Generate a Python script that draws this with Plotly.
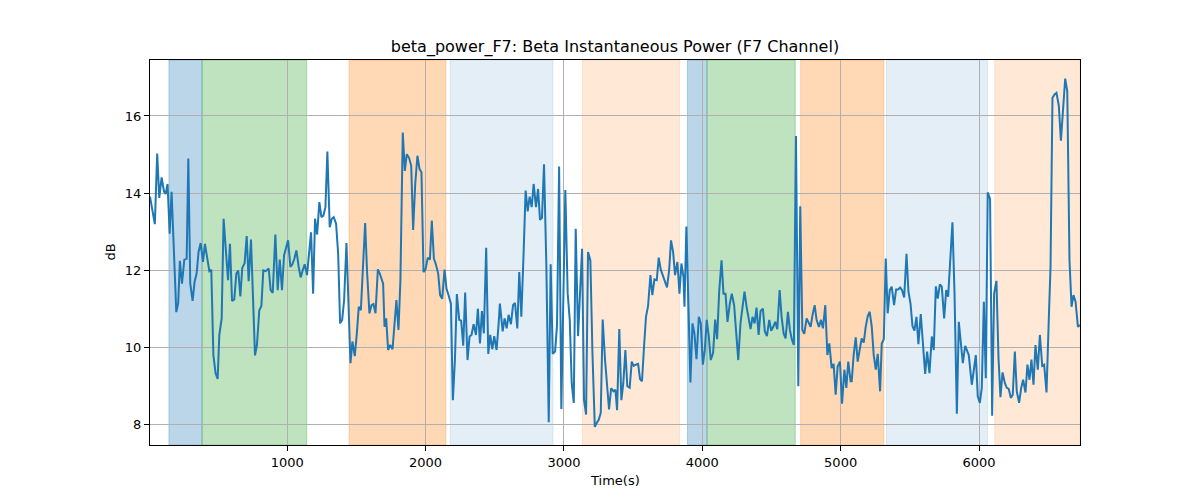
import plotly.graph_objects as go

# ---- data ----
time_s = [
    8, 43, 60, 75, 92, 109, 121, 135, 150, 164, 198, 212, 224, 239, 256, 273, 285, 299, 316, 330,
    345, 359, 374, 391, 405, 422, 437, 451, 466, 482, 497, 509, 526, 540, 557, 572, 586, 601, 617, 632,
    646, 661, 675, 692, 707, 721, 738, 753, 767, 781, 798, 813, 827, 844,
    866, 880, 895, 914, 931, 946, 962, 977, 991, 1006, 1023, 1037, 1052, 1066, 1083, 1097, 1112, 1126,
    1143, 1158, 1172, 1187, 1201, 1216, 1232, 1247, 1261, 1276, 1290, 1307, 1322, 1336, 1353, 1368,
    1382, 1397, 1411, 1428, 1442, 1457, 1471, 1488, 1503, 1517, 1532, 1546, 1563, 1577, 1594, 1609,
    1623, 1638, 1655, 1669, 1686,
    1693, 1703, 1715, 1729, 1744, 1761, 1775, 1789, 1804, 1818, 1835, 1850, 1864, 1881, 1896, 1910,
    1925, 1941, 1956, 1970, 1985, 1999, 2016, 2031, 2045, 2060, 2074, 2091, 2105, 2120, 2137, 2151,
    2166, 2183, 2197, 2212, 2226, 2243, 2257, 2272, 2286, 2303, 2318, 2332, 2347, 2364, 2378, 2393,
    2407, 2421, 2438, 2453, 2467, 2482, 2496, 2513, 2528, 2537,
    2557, 2571, 2586, 2600, 2617, 2632, 2646, 2663, 2677, 2692, 2709, 2723, 2738, 2752, 2767, 2781,
    2798, 2813, 2827, 2841, 2856, 2873, 2890, 2904, 2919, 2936, 2950, 2965, 2981, 2996, 3010, 3027,
    3042, 3056, 3071, 3085, 3102, 3116, 3131, 3145, 3160, 3174, 3191, 3206, 3223, 3237, 3252, 3266,
    3280, 3297, 3312, 3326, 3341, 3358, 3372, 3384,
    3400, 3415, 3429, 3444, 3458, 3475, 3490, 3504, 3519, 3536, 3550, 3564, 3579, 3593, 3608, 3625,
    3639, 3654, 3671, 3685, 3700, 3716, 3731, 3745, 3760, 3774, 3789, 3803, 3820, 3835, 3849, 3864,
    3871, 3885, 3900, 3914, 3929, 3943, 3958, 3975, 3989, 4004, 4018, 4032, 4047, 4061, 4078, 4093,
    4107, 4122, 4139, 4153, 4168, 4182, 4199, 4213, 4230,
    4245, 4260, 4276, 4291, 4305, 4320, 4334, 4349, 4363, 4378, 4392, 4407, 4421, 4438, 4452, 4467,
    4484, 4498, 4513, 4527, 4542, 4559, 4573, 4588, 4602, 4619, 4633, 4648, 4662, 4677, 4694, 4708,
    4723, 4737, 4754, 4768, 4783, 4797, 4812, 4826, 4843, 4858, 4872, 4889, 4904, 4918, 4935, 4949,
    4964, 4978, 4995, 5010, 5027, 5041, 5055, 5072,
    5080, 5094, 5109, 5123, 5138, 5152, 5167, 5181, 5196, 5210, 5225, 5239, 5254, 5268, 5285, 5297,
    5312, 5326, 5340, 5355, 5369, 5386, 5401, 5415, 5430, 5444, 5459, 5476, 5490, 5505, 5519, 5533,
    5548, 5562, 5579, 5594, 5611, 5625, 5642, 5659, 5673, 5688, 5702, 5717, 5731, 5748, 5763, 5777,
    5792, 5808, 5823, 5840, 5854, 5869, 5883, 5900, 5915,
    5926, 5948, 5962, 5977, 5991, 6006, 6020, 6035, 6049, 6063, 6080, 6095, 6109, 6126, 6141, 6155,
    6170, 6187, 6201, 6215, 6230, 6244, 6259, 6273, 6290, 6305, 6319, 6336, 6350, 6365, 6379, 6394,
    6408, 6425, 6440, 6457, 6471, 6488, 6505, 6517, 6531, 6546, 6560, 6577, 6592, 6609, 6623, 6638,
    6654, 6669, 6683, 6698, 6715, 6730,
]

power_db = [
    13.91, 13.20, 15.03, 13.88, 14.41, 14.05, 13.98, 14.24, 12.95, 14.04, 10.92, 11.16, 12.25, 11.66, 12.28, 12.30, 14.90, 11.66, 11.21, 11.70,
    11.92, 12.48, 12.71, 12.22, 12.69, 12.31, 11.98, 12.02, 9.81, 9.34, 9.19, 10.33, 10.76, 13.34, 12.35, 11.75, 12.69, 11.21, 11.25, 11.92,
    12.00, 11.33, 12.07, 12.19, 12.89, 11.72, 12.80, 11.40, 9.80, 10.07, 10.97, 11.08, 12.00, 11.98,
    12.05, 11.49, 11.42, 12.93, 11.49, 12.28, 11.49, 12.39, 12.56, 12.78, 12.09, 12.16, 12.31, 12.52, 12.09, 11.82, 12.01, 12.16,
    11.88, 12.52, 12.99, 11.40, 13.34, 12.93, 13.77, 13.38, 13.42, 13.64, 15.08, 13.12, 13.34, 13.38, 13.21, 12.43,
    10.63, 10.72, 11.23, 12.71, 11.40, 9.60, 10.16, 9.78, 10.37, 11.06, 10.97, 11.92, 13.23, 11.96, 10.89, 11.10,
    11.13, 10.89, 12.03, 11.92, 11.75,
    11.66, 10.54, 10.76, 9.94, 10.07, 9.96, 10.63, 11.23, 10.46, 11.75, 15.57, 14.58, 15.01, 14.91, 14.71, 13.05,
    14.24, 14.97, 14.63, 14.54, 11.96, 12.02, 12.33, 12.28, 13.29, 12.31, 12.16, 11.92, 11.36, 11.27, 12.02, 11.53,
    11.36, 11.14, 8.64, 9.68, 11.39, 10.72, 10.70, 10.05, 11.43, 9.68, 10.29, 10.33, 10.61, 10.33, 11.01, 10.11,
    10.95, 10.37, 12.59, 9.84, 10.33, 9.96, 10.30, 9.94, 10.63, 11.14,
    10.42, 10.76, 10.50, 10.85, 10.61, 11.10, 11.16, 10.50, 11.96, 10.80, 12.52, 14.07, 13.53, 13.91, 13.64, 14.24,
    13.64, 14.11, 13.31, 13.36, 14.75, 12.09, 8.07, 12.16, 9.84, 9.90, 10.59, 14.69, 8.41, 11.92, 14.08, 11.40,
    10.72, 9.08, 8.57, 13.08, 10.30, 11.40, 12.56, 8.65, 8.27, 12.48, 12.26, 9.86, 7.95, 8.05, 8.14, 8.31,
    10.73, 9.68, 9.00, 8.40, 8.95, 8.87, 8.91, 8.38,
    10.48, 8.64, 9.08, 9.94, 9.00, 8.96, 9.64, 9.53, 9.56, 9.58, 9.19, 9.13, 10.03, 10.80, 11.08, 11.88,
    11.36, 11.77, 11.75, 12.33, 12.02, 11.85, 11.70, 11.56, 12.00, 12.78, 12.48, 11.88, 12.22, 11.40, 12.18, 11.83,
    11.06, 13.14, 11.06, 9.10, 10.63, 10.37, 9.70, 10.80, 10.63, 9.56, 9.94, 10.72, 10.29, 9.68, 9.86, 10.73,
    10.22, 11.45, 12.26, 11.40, 11.40, 10.67, 11.14, 11.40, 11.10,
    10.46, 9.68, 10.63, 11.10, 11.45, 11.06, 10.80, 10.48, 10.80, 10.63, 11.04, 10.33, 10.95, 11.01, 10.42, 10.30,
    10.72, 10.44, 10.54, 10.67, 10.48, 11.49, 10.80, 10.37, 10.24, 10.93, 10.46, 10.20, 10.07, 15.48, 9.00, 13.66,
    10.46, 10.36, 10.76, 10.63, 10.54, 10.85, 11.10, 10.72, 10.54, 10.72, 10.50, 11.10, 9.81, 10.11, 9.47, 9.58,
    8.78, 9.51, 9.64, 8.55, 9.43, 8.96, 9.64, 9.13,
    9.13, 9.81, 10.27, 9.64, 9.93, 10.24, 10.13, 10.54, 10.82, 10.93, 10.54, 9.81, 9.43, 9.84, 8.87, 10.11,
    10.22, 12.31, 10.89, 11.49, 11.58, 11.10, 11.51, 11.51, 11.56, 11.49, 11.30, 12.43, 11.45, 11.14, 10.56, 10.44,
    10.80, 10.09, 10.87, 10.16, 9.32, 9.90, 9.34, 10.29, 9.94, 11.59, 11.27, 11.64, 11.58, 10.76, 11.49, 11.32,
    12.19, 13.25, 11.40, 8.29, 10.67, 10.11, 9.60, 10.05, 9.90,
    9.81, 9.04, 9.43, 9.81, 8.74, 8.57, 8.96, 11.19, 9.21, 14.02, 13.85, 8.24, 11.40, 11.73, 9.73, 8.72,
    9.36, 9.08, 8.96, 8.93, 8.70, 8.78, 9.90, 8.87, 8.57, 8.96, 9.17, 8.84, 9.56, 9.17, 9.69, 9.04,
    10.07, 9.43, 10.33, 9.53, 9.56, 8.84, 10.80, 12.09, 16.47, 16.56, 16.60, 16.26, 15.36, 16.34, 16.97, 16.64,
    12.26, 11.06, 11.36, 11.19, 10.54, 10.59,
]

# shaded phases: start, end, colour (rgba)
span_start = [145, 384, 1447, 2178, 3133, 3893, 4034, 4711, 5331, 6114]
span_end = [384, 1141, 2146, 2921, 3835, 4034, 4672, 5312, 6061, 6730]
span_color = [
    "rgba(31,119,180,0.30)", "rgba(44,160,44,0.30)", "rgba(255,127,14,0.30)",
    "rgba(31,119,180,0.12)", "rgba(255,127,14,0.17)",
    "rgba(31,119,180,0.30)", "rgba(44,160,44,0.30)", "rgba(255,127,14,0.30)",
    "rgba(31,119,180,0.12)", "rgba(255,127,14,0.17)",
]

x_ticks = [1000, 2000, 3000, 4000, 5000, 6000]
y_ticks = [8, 10, 12, 14, 16]

FONT = "DejaVu Sans"

fig = go.Figure()
fig.add_trace(go.Scatter(
    x=time_s, y=power_db, mode="lines",
    line=dict(color="#1f77b4", width=2),
    showlegend=False,
))

for s, e, c in zip(span_start, span_end, span_color):
    fig.add_shape(type="rect", xref="x", yref="paper", x0=s, x1=e, y0=0, y1=1,
                  fillcolor=c, line=dict(color=c, width=1), layer="below")

axis_common = dict(
    showline=True, linecolor="black", linewidth=1, mirror=True,
    ticks="outside", ticklen=5, tickwidth=1, tickcolor="black",
    showgrid=True, gridcolor="#b0b0b0", gridwidth=1,
    zeroline=False, tickfont=dict(family=FONT, size=13, color="black"),
)

# page body adds an 8px offset; figure is sized/margined to compensate
W, H = 1192, 492
fig.update_layout(
    width=W, height=H,
    margin=dict(l=142, r=120, t=52, b=55),
    paper_bgcolor="white", plot_bgcolor="white",
    font=dict(family=FONT, color="black"),
    title=dict(text="beta_power_F7: Beta Instantaneous Power (F7 Channel)",
               x=0.5, xref="paper", xanchor="center", yref="container", y=1 - 38 / H,
               yanchor="middle", font=dict(family=FONT, size=16, color="black")),
    xaxis=dict(range=[8, 6730], tickvals=x_ticks, **axis_common),
    yaxis=dict(range=[7.48, 17.45], tickvals=y_ticks, **axis_common),
    annotations=[
        dict(text="Time(s)", xref="paper", yref="paper", x=0.5, y=-0.0935,
             xanchor="center", yanchor="middle", showarrow=False,
             font=dict(family=FONT, size=13, color="black")),
        dict(text="dB", xref="paper", yref="paper", x=-0.043, y=0.5,
             xanchor="center", yanchor="middle", textangle=-90, showarrow=False,
             font=dict(family=FONT, size=13, color="black")),
    ],
)

fig.write_html("out.html")
